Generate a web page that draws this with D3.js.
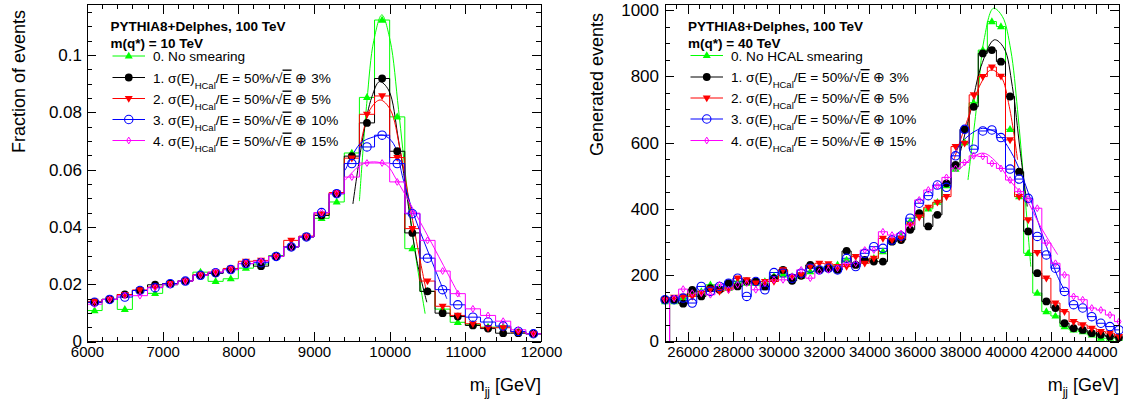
<!DOCTYPE html>
<html><head><meta charset="utf-8">
<script src="https://cdn.jsdelivr.net/npm/d3@7/dist/d3.min.js"></script>
<style>
body{margin:0;background:#fff}
svg{display:block}
text{font-family:"Liberation Sans",Arial,Helvetica,sans-serif;fill:#000}
</style></head>
<body><svg id="chart" width="1123" height="410"></svg>
<script>
// ---------------- LEFT PANEL DATA (m(q*) = 10 TeV) ----------------
const leftMass = [6100,6300,6500,6700,6900,7100,7300,7500,7700,7900,8100,8300,8500,8700,8900,9100,9300,9500,9700,9900,10100,10300,10500,10700,10900,11100,11300,11500,11700,11900];
const leftNoSmear = [0.0108,0.0147,0.0112,0.0178,0.0168,0.0198,0.0211,0.0242,0.0210,0.0219,0.0256,0.0270,0.0300,0.0330,0.0365,0.0430,0.0487,0.0658,0.0852,0.1122,0.0784,0.0324,0.0175,0.0113,0.0067,0.0060,0.0050,0.0051,0.0033,0.0027];
const leftS3  = [0.0137,0.0147,0.0164,0.0178,0.0198,0.0202,0.0211,0.0231,0.0238,0.0251,0.0272,0.0263,0.0297,0.0330,0.0365,0.0440,0.0516,0.0647,0.0763,0.0918,0.0664,0.0379,0.0175,0.0099,0.0087,0.0056,0.0045,0.0029,0.0029,0.0027];
const leftS5  = [0.0140,0.0147,0.0164,0.0180,0.0190,0.0202,0.0211,0.0233,0.0242,0.0255,0.0280,0.0283,0.0297,0.0353,0.0368,0.0445,0.0520,0.0640,0.0793,0.0857,0.0642,0.0394,0.0211,0.0123,0.0091,0.0062,0.0048,0.0048,0.0033,0.0027];
const leftS10 = [0.0137,0.0147,0.0155,0.0178,0.0188,0.0202,0.0211,0.0231,0.0240,0.0251,0.0272,0.0275,0.0297,0.0330,0.0365,0.0450,0.0516,0.0621,0.0679,0.0720,0.0621,0.0446,0.0291,0.0181,0.0128,0.0085,0.0068,0.0054,0.0035,0.0027];
const leftS15 = [0.0130,0.0147,0.0160,0.0160,0.0188,0.0198,0.0211,0.0231,0.0242,0.0251,0.0272,0.0280,0.0297,0.0330,0.0365,0.0450,0.0516,0.0574,0.0623,0.0623,0.0557,0.0448,0.0353,0.0246,0.0167,0.0114,0.0091,0.0071,0.0041,0.0027];
// fit curves ([mass, value])
const leftFitNoSmear = [[9600,0.049],[9700,0.084],[9790,0.105],[9897,0.114],[10007,0.105],[10117,0.081],[10227,0.054],[10337,0.031],[10469,0.0097]];
const leftFitS3  = [[9514,0.048],[9655,0.0726],[9765,0.0854],[9866,0.0907],[9985,0.0878],[10117,0.0703],[10249,0.047],[10359,0.0283],[10491,0.0137]];
const leftFitS5  = [[9611,0.068],[9742,0.081],[9874,0.0843],[10007,0.081],[10139,0.0668],[10271,0.047],[10403,0.0283],[10491,0.0167]];
const leftFitS10 = [[9413,0.0598],[9611,0.0691],[9786,0.0714],[9918,0.072],[10050,0.0691],[10182,0.0563],[10314,0.0447],[10535,0.0295],[10756,0.0149]];
const leftFitS15 = [[9413,0.0563],[9611,0.0615],[9786,0.0627],[9962,0.0615],[10094,0.0563],[10271,0.0481],[10535,0.0353],[10931,0.0155]];
const leftXTicks = [6000,7000,8000,9000,10000,11000,12000];
const leftXLabels = ["6000","7000","8000","9000","10000","11000","12000"];
const leftYTicks = [0,0.02,0.04,0.06,0.08,0.1];
const leftYLabels = ["0","0.02","0.04","0.06","0.08","0.1"];

// ---------------- RIGHT PANEL DATA (m(q*) = 40 TeV) ----------------
const rightMass = [25000,25400,25800,26200,26600,27000,27400,27800,28200,28600,29000,29400,29800,30200,30600,31000,31400,31800,32200,32600,33000,33400,33800,34200,34600,35000,35400,35800,36200,36600,37000,37400,37800,38200,38600,39000,39400,39800,40200,40600,41000,41400,41800,42200,42600,43000,43400,43800,44200,44600,45000];
const rightNoSmear = [120,120,131,146,151,171,161,161,181,176,176,181,196,201,196,196,211,221,226,231,246,236,246,251,271,301,316,362,380,400,420,470,520,600,720,879,965,950,640,437,266,146,90,77,45,35,30,20,10,10,10];
const rightS3  = [126,126,114,156,136,161,156,176,166,181,181,166,191,216,183,198,231,216,221,216,273,231,246,241,241,301,306,337,387,347,382,477,533,640,708,869,879,844,739,512,332,206,121,101,55,40,35,25,20,15,12];
const rightS5  = [126,133,136,136,146,158,151,156,191,186,176,181,181,216,196,201,226,236,234,226,226,256,236,251,311,306,311,352,375,405,420,437,588,598,744,799,828,800,608,437,367,268,191,116,90,60,50,40,30,25,15];
const rightS10 = [126,126,131,116,166,151,166,176,191,136,181,156,208,206,191,206,221,216,221,216,251,226,266,286,281,306,318,372,417,440,472,465,560,640,580,635,638,615,520,490,432,317,261,221,151,111,101,75,55,45,35];
const rightS15 = [126,130,158,146,146,141,171,156,171,176,156,176,186,186,196,216,191,211,216,221,236,236,276,276,331,321,326,352,427,457,470,495,522,540,560,558,537,522,487,452,430,402,297,236,201,136,126,101,95,80,60];
const rightFitNoSmear = [[38347,487],[38761,729],[39054,910],[39468,1005],[39865,980],[40232,879],[40530,699],[40824,467],[41115,226]];
const rightFitS3  = [[37960,558],[38477,699],[38919,829],[39508,910],[39934,885],[40302,769],[40640,578],[40958,407]];
const rightFitS5  = [[37726,548],[38325,669],[38918,779],[39360,819],[39801,799],[40168,708],[40530,548]];
const rightFitS10 = [[37648,558],[38163,608],[38755,638],[39050,643],[39640,628],[40232,573],[40680,508],[41115,427],[41700,307],[42296,196],[42590,156]];
const rightFitS15 = [[37869,512],[38605,558],[39050,568],[39640,538],[40232,482],[40902,430],[41556,345],[42296,262]];
const rightXTicks = [26000,28000,30000,32000,34000,36000,38000,40000,42000,44000];
const rightXLabels = ["26000","28000","30000","32000","34000","36000","38000","40000","42000","44000"];
const rightYTicks = [0,200,400,600,800,1000];
const rightYLabels = ["0","200","400","600","800","1000"];

// legend texts
const leftTitle = ["PYTHIA8+Delphes, 100 TeV", "m(q*) = 10 TeV"];
const rightTitle = ["PYTHIA8+Delphes, 100 TeV", "m(q*) = 40 TeV"];
const leftFirstEntry = "0. No smearing";
const rightFirstEntry = "0. No HCAL smearing";
const constTerms = ["3%","5%","10%","15%"];

// ---------------- STYLES ----------------
const seriesStyle = [
  {color:"#00ff00", marker:"triUp"},
  {color:"#000000", marker:"circle"},
  {color:"#ff0000", marker:"triDown"},
  {color:"#0000ff", marker:"openCircle"},
  {color:"#ff00ff", marker:"openDiamond"}
];

const svg = d3.select("#chart");

function markerPath(type){
  switch(type){
    case "triUp": return "M0,-4.3L4,2.6L-4,2.6Z";
    case "triDown": return "M0,4.3L4,-2.6L-4,-2.6Z";
    case "openDiamond": return "M0,-3.4L2.1,0L0,3.4L-2.1,0Z";
    default: return null;
  }
}
function drawMarker(g, type, color, cx, cy){
  if(type==="circle"){
    g.append("circle").attr("cx",cx).attr("cy",cy).attr("r",3.9).attr("fill",color);
  } else if(type==="openCircle"){
    g.append("circle").attr("cx",cx).attr("cy",cy).attr("r",4.2).attr("fill","none").attr("stroke",color).attr("stroke-width",1.1);
  } else if(type==="openDiamond"){
    g.append("path").attr("d",markerPath(type)).attr("transform",`translate(${cx},${cy})`).attr("fill","none").attr("stroke",color).attr("stroke-width",1);
  } else {
    g.append("path").attr("d",markerPath(type)).attr("transform",`translate(${cx},${cy})`).attr("fill",color);
  }
}

function drawPanel(cfg){
  const g = svg.append("g");
  const x = d3.scaleLinear().domain(cfg.xDomain).range([cfg.left, cfg.right]);
  const y = d3.scaleLinear().domain(cfg.yDomain).range([cfg.bottom, cfg.top]);
  const clipId = "clip"+cfg.id;
  svg.append("clipPath").attr("id",clipId).append("rect")
    .attr("x",cfg.left).attr("y",cfg.top).attr("width",cfg.right-cfg.left).attr("height",cfg.bottom-cfg.top);
  const plot = g.append("g").attr("clip-path",`url(#${clipId})`);
  const markers = g.append("g");
  const half = (cfg.mass[1]-cfg.mass[0])/2;
  const line = d3.line().x(d=>x(d[0])).y(d=>y(d[1])).curve(d3.curveCatmullRom.alpha(0.5));

  cfg.series.forEach((vals,si)=>{
    const st = seriesStyle[si];
    const p = d3.path();
    vals.forEach((v,i)=>{
      const xl = x(cfg.mass[i]-half), xr = x(cfg.mass[i]+half);
      if(i===0) p.moveTo(xl,y(v)); else p.lineTo(xl,y(v));
      p.lineTo(xr,y(v));
      if(i===0 && cfg.dropFirst) { p.lineTo(xr,y(0)); }
    });
    plot.append("path").attr("d",p.toString()).attr("fill","none").attr("stroke",st.color).attr("stroke-width",1);
    plot.append("path").attr("d",line(cfg.fits[si])).attr("fill","none").attr("stroke",st.color).attr("stroke-width",1);
    const mg = markers.append("g");
    vals.forEach((v,i)=>drawMarker(mg, st.marker, st.color, x(cfg.mass[i]), y(v)));
  });

  // axes (ticks inward, ROOT style)
  const ax = g.append("g").attr("class","axes");
  const bottom = d3.axisBottom(x).tickValues(cfg.xTicks).tickSizeInner(-10).tickSizeOuter(0).tickPadding(5)
    .tickFormat((d,i)=>cfg.xLabels[i]);
  const bottomMinor = d3.axisBottom(x).tickValues(d3.range(cfg.xDomain[0], cfg.xDomain[1]+1e-9, cfg.xMinor)).tickSizeInner(-5).tickSizeOuter(0).tickFormat("");
  const top = d3.axisTop(x).tickValues(cfg.xTicks).tickSizeInner(-10).tickSizeOuter(0).tickFormat("");
  const topMinor = d3.axisTop(x).tickValues(d3.range(cfg.xDomain[0], cfg.xDomain[1]+1e-9, cfg.xMinor)).tickSizeInner(-5).tickSizeOuter(0).tickFormat("");
  const left = d3.axisLeft(y).tickValues(cfg.yTicks).tickSizeInner(-9).tickSizeOuter(0).tickPadding(cfg.yPad)
    .tickFormat((d,i)=>cfg.yLabels[i]);
  const yMinorVals = d3.range(0, cfg.yDomain[1], cfg.yMinor);
  const leftMinor = d3.axisLeft(y).tickValues(yMinorVals).tickSizeInner(-5).tickSizeOuter(0).tickFormat("");
  const right = d3.axisRight(y).tickValues(cfg.yTicks).tickSizeInner(-9).tickSizeOuter(0).tickFormat("");
  const rightMinor = d3.axisRight(y).tickValues(yMinorVals).tickSizeInner(-5).tickSizeOuter(0).tickFormat("");

  const put = (axis, tx, ty) => ax.append("g").attr("transform",`translate(${tx},${ty})`).call(axis);
  const bA = put(bottom,0,cfg.bottom); put(bottomMinor,0,cfg.bottom);
  put(top,0,cfg.top); put(topMinor,0,cfg.top);
  const lA = put(left,cfg.left,0); put(leftMinor,cfg.left,0);
  put(right,cfg.right,0); put(rightMinor,cfg.right,0);
  ax.selectAll(".domain").remove();
  ax.selectAll("line").attr("stroke","#000").attr("stroke-width",1).attr("shape-rendering","crispEdges");
  bA.selectAll("text").attr("font-size",cfg.xFont).attr("font-family","Liberation Sans, Arial, sans-serif").attr("fill","#000");
  lA.selectAll("text").attr("font-size",cfg.yFont).attr("font-family","Liberation Sans, Arial, sans-serif").attr("fill","#000");
  g.append("rect").attr("x",cfg.left).attr("y",cfg.top).attr("width",cfg.right-cfg.left).attr("height",cfg.bottom-cfg.top)
    .attr("fill","none").attr("stroke","#000").attr("stroke-width",1).attr("shape-rendering","crispEdges");

  // axis titles
  g.append("text").attr("transform",`translate(${cfg.yTitleX},${cfg.top+cfg.yTitleOff}) rotate(-90)`)
    .attr("text-anchor","end").attr("font-size",18).text(cfg.yTitle);
  const xt = g.append("text").attr("x",cfg.right).attr("y",cfg.xTitleY).attr("text-anchor","end").attr("font-size",18);
  xt.append("tspan").text("m");
  xt.append("tspan").attr("font-size",12).attr("dy",5).text("jj");
  xt.append("tspan").attr("dy",-5).text(" [GeV]");

  // legend
  const L = cfg.legend;
  const lg = g.append("g");
  lg.append("text").attr("x",L.titleX).attr("y",L.titleY[0]).attr("font-size",13.5).attr("font-weight","bold").text(cfg.title[0]);
  lg.append("text").attr("x",L.titleX).attr("y",L.titleY[1]).attr("font-size",13.5).attr("font-weight","bold").text(cfg.title[1]);
  seriesStyle.forEach((st,i)=>{
    const cy = L.entryY[i];
    lg.append("line").attr("x1",L.lineX[0]).attr("x2",L.lineX[1]).attr("y1",cy).attr("y2",cy).attr("stroke",st.color).attr("stroke-width",1);
    drawMarker(lg, st.marker, st.color, (L.lineX[0]+L.lineX[1])/2, cy);
    const t = lg.append("text").attr("x",L.textX).attr("y",cy+5).attr("font-size",13.6);
    if(i===0){ t.text(cfg.firstEntry); }
    else {
      t.append("tspan").text(`${i}. σ(E)`);
      t.append("tspan").attr("font-size",9.5).attr("dy",6).text("HCal");
      t.append("tspan").attr("dy",-6).text("/E = 50%/√");
      t.append("tspan").attr("text-decoration","overline").text("E");
      t.append("tspan").text(" ⊕ "+constTerms[i-1]);
    }
  });
}

drawPanel({
  id:"L", left:87, right:541, top:4, bottom:341.5,
  xDomain:[6000,12000], yDomain:[0,0.1178], xMinor:200, yMinor:0.005,
  xTicks:leftXTicks, xLabels:leftXLabels, yTicks:leftYTicks, yLabels:leftYLabels,
  xFont:15, yFont:17, yPad:5,
  mass:leftMass, series:[leftNoSmear,leftS3,leftS5,leftS10,leftS15],
  fits:[leftFitNoSmear,leftFitS3,leftFitS5,leftFitS10,leftFitS15],
  dropFirst:false,
  yTitle:"Fraction of events", yTitleX:25, yTitleOff:6, xTitleY:391,
  title:leftTitle, firstEntry:leftFirstEntry,
  legend:{titleX:110.5, titleY:[31,47.5], entryY:[56,77.5,98.5,119.5,140.5], lineX:[112.5,145], textX:153}
});
drawPanel({
  id:"R", left:665, right:1119, top:4, bottom:341.5,
  xDomain:[25000,45000], yDomain:[0,1018], xMinor:500, yMinor:50,
  xTicks:rightXTicks, xLabels:rightXLabels, yTicks:rightYTicks, yLabels:rightYLabels,
  xFont:15, yFont:17, yPad:6,
  mass:rightMass, series:[rightNoSmear,rightS3,rightS5,rightS10,rightS15],
  fits:[rightFitNoSmear,rightFitS3,rightFitS5,rightFitS10,rightFitS15],
  dropFirst:true,
  yTitle:"Generated events", yTitleX:603, yTitleOff:9, xTitleY:391,
  title:rightTitle, firstEntry:rightFirstEntry,
  legend:{titleX:688, titleY:[31,47.5], entryY:[55.5,77,98,119,140.5], lineX:[690.5,723], textX:731}
});
</script>
</body></html>
